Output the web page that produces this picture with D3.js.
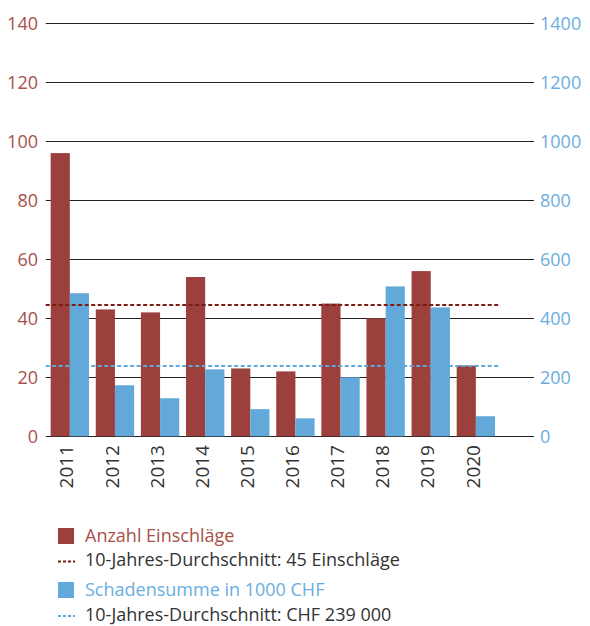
<!DOCTYPE html>
<html>
<head>
<meta charset="utf-8">
<script src="https://cdn.jsdelivr.net/npm/d3@7"></script>
<style>
  body { margin: 0; background: #fff; }
  text { font-family: "Open Sans", sans-serif; }
</style>
</head>
<body>
<svg id="svg" width="590" height="626"></svg>
<script>
// data
var years = ["2011", "2012", "2013", "2014", "2015", "2016", "2017", "2018", "2019", "2020"];
var strikes = [96, 43, 42, 54, 23, 22, 45, 40, 56, 24];          // Anzahl Einschläge
var damage = [485, 173, 129, 227, 92, 61, 200, 508, 437, 68];     // Schadensumme in 1000 CHF
var leftTicks = [0, 20, 40, 60, 80, 100, 120, 140];
var rightTicks = [0, 200, 400, 600, 800, 1000, 1200, 1400];
var avgStrikes = 44.5;
var avgDamage = 238;
var legendItems = [
    { type: "box", color: "#9b403c", text: "Anzahl Einschläge", textColor: "#a8504a" },
    { type: "dash", color: "#7a1c14", text: "10-Jahres-Durchschnitt: 45 Einschläge", textColor: "#333" },
    { type: "box", color: "#62a8d8", text: "Schadensumme in 1000 CHF", textColor: "#6aaee0" },
    { type: "dash", color: "#62a8d8", text: "10-Jahres-Durchschnitt: CHF 239 000", textColor: "#333" }
];

var svg = d3.select("#svg");
var red = "#9b403c", blue = "#62a8d8";

var plotLeft = 45.7, plotRight = 534, plotTop = 23.3, plotBottom = 436.3;

var y = d3.scaleLinear().domain([0, 140]).range([plotBottom, plotTop]);
var y2 = d3.scaleLinear().domain([0, 1400]).range([plotBottom, plotTop]);

var x = d3.scaleBand()
    .domain(years)
    .range([plotLeft, 500])
    .paddingInner(0.15)
    .paddingOuter(0.11);

var sub = d3.scaleBand()
    .domain(["a", "b"])
    .range([0, x.bandwidth()]);

// grid lines
svg.append("g")
    .selectAll("line")
    .data(leftTicks)
    .enter()
    .append("line")
    .attr("x1", plotLeft)
    .attr("x2", plotRight)
    .attr("y1", function(d) { return Math.round(y(d)) + 0.5; })
    .attr("y2", function(d) { return Math.round(y(d)) + 0.5; })
    .attr("stroke", "#222")
    .attr("stroke-width", 1.2);

// left axis labels
svg.append("g")
    .selectAll("text")
    .data(leftTicks)
    .enter()
    .append("text")
    .attr("x", 38)
    .attr("y", function(d) { return y(d); })
    .attr("dy", "0.35em")
    .attr("text-anchor", "end")
    .attr("fill", "#a8504a")
    .style("font-size", "18px")
    .text(function(d) { return d; });

// right axis labels
svg.append("g")
    .selectAll("text")
    .data(rightTicks)
    .enter()
    .append("text")
    .attr("x", 540)
    .attr("y", function(d) { return y2(d); })
    .attr("dy", "0.35em")
    .attr("fill", "#6aaee0")
    .style("font-size", "18px")
    .text(function(d) { return d; });

// bars
var groups = svg.append("g")
    .selectAll("g")
    .data(years)
    .enter()
    .append("g")
    .attr("transform", function(d) { return "translate(" + x(d) + ",0)"; });

groups.append("rect")
    .attr("x", sub("a"))
    .attr("width", sub.bandwidth())
    .attr("y", function(d, i) { return y(strikes[i]); })
    .attr("height", function(d, i) { return plotBottom - y(strikes[i]); })
    .attr("fill", red);

groups.append("rect")
    .attr("x", sub("b"))
    .attr("width", sub.bandwidth())
    .attr("y", function(d, i) { return y2(damage[i]); })
    .attr("height", function(d, i) { return plotBottom - y2(damage[i]); })
    .attr("fill", blue);

// average lines
svg.append("line")
    .attr("x1", plotLeft).attr("x2", 500)
    .attr("y1", y(avgStrikes)).attr("y2", y(avgStrikes))
    .attr("stroke", "#7a1c14")
    .attr("stroke-width", 2)
    .attr("stroke-dasharray", "4,2.5");

svg.append("line")
    .attr("x1", plotLeft).attr("x2", 500)
    .attr("y1", y2(avgDamage)).attr("y2", y2(avgDamage))
    .attr("stroke", blue)
    .attr("stroke-width", 2)
    .attr("stroke-dasharray", "4,2.5");

// year labels
svg.append("g")
    .selectAll("text")
    .data(years)
    .enter()
    .append("text")
    .attr("transform", function(d) {
        return "translate(" + (x(d) + x.bandwidth() / 2 - 3) + "," + 445 + ") rotate(-90)";
    })
    .attr("text-anchor", "end")
    .attr("dy", "0.35em")
    .attr("fill", "#333")
    .style("font-size", "19px")
    .text(function(d) { return d; });

// legend
var legendY = [536, 560, 590, 614.5];
var legend = svg.append("g")
    .selectAll("g")
    .data(legendItems)
    .enter()
    .append("g")
    .attr("transform", function(d, i) { return "translate(58," + legendY[i] + ")"; });

legend.filter(function(d) { return d.type == "box"; })
    .append("rect")
    .attr("x", 0).attr("y", -8)
    .attr("width", 16).attr("height", 16)
    .attr("fill", function(d) { return d.color; });

legend.filter(function(d) { return d.type == "dash"; })
    .append("line")
    .attr("x1", 0).attr("x2", 17)
    .attr("y1", 1.5).attr("y2", 1.5)
    .attr("stroke", function(d) { return d.color; })
    .attr("stroke-width", 2)
    .attr("stroke-dasharray", "3,2");

legend.append("text")
    .attr("x", 27)
    .attr("dy", "0.35em")
    .attr("fill", function(d) { return d.textColor; })
    .style("font-size", "18px")
    .text(function(d) { return d.text; });
</script>
</body>
</html>
